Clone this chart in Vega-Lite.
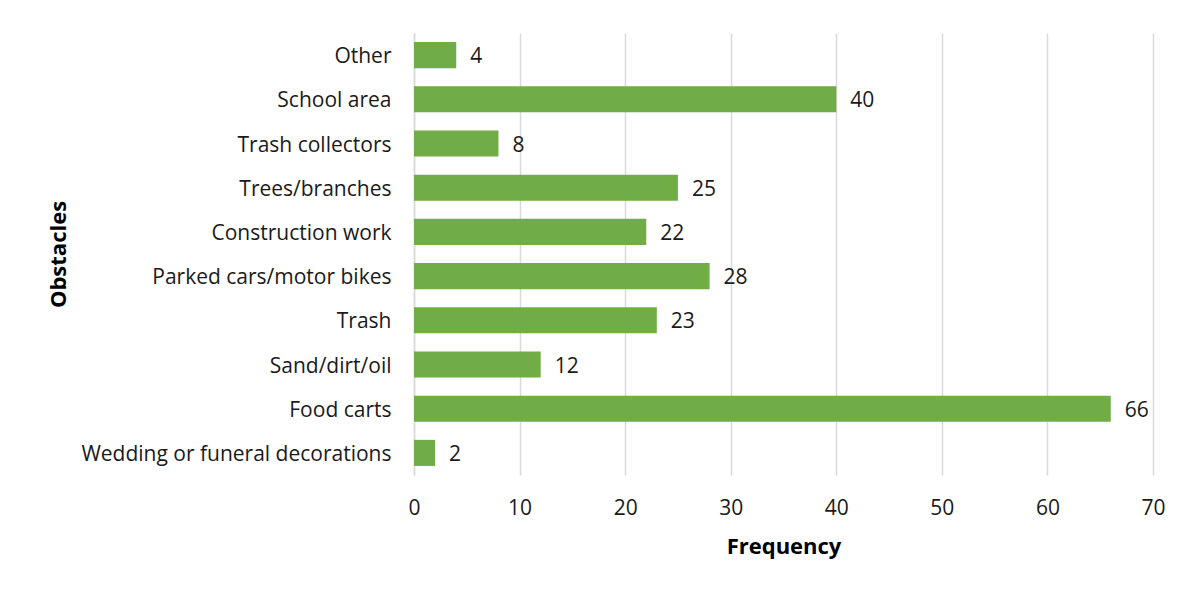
{
  "$schema": "https://vega.github.io/schema/vega-lite/v6.json",
  "width": 739,
  "height": 442,
  "autosize": "none",
  "padding": {"left": 414, "top": 33, "right": 34, "bottom": 115},
  "background": "white",
  "data": {
    "values": [
      {"obstacle": "Other", "frequency": 4},
      {"obstacle": "School area", "frequency": 40},
      {"obstacle": "Trash collectors", "frequency": 8},
      {"obstacle": "Trees/branches", "frequency": 25},
      {"obstacle": "Construction work", "frequency": 22},
      {"obstacle": "Parked cars/motor bikes", "frequency": 28},
      {"obstacle": "Trash", "frequency": 23},
      {"obstacle": "Sand/dirt/oil", "frequency": 12},
      {"obstacle": "Food carts", "frequency": 66},
      {"obstacle": "Wedding or funeral decorations", "frequency": 2}
    ]
  },
  "encoding": {
    "y": {
      "field": "obstacle",
      "type": "nominal",
      "sort": null,
      "scale": {"paddingInner": 0.41, "paddingOuter": 0.205},
      "axis": {
        "title": "Obstacles",
        "titleFont": "Open Sans",
        "titleFontSize": 22,
        "titleFontWeight": "bold",
        "titleColor": "#000000",
        "titleX": -356,
        "titleY": 221,
        "titleAlign": "center",
        "titleBaseline": "middle",
        "labelFont": "Open Sans",
        "labelFontSize": 21,
        "labelColor": "#1a1a1a",
        "labelPadding": 23,
        "labelOffset": 2,
        "labelLimit": 500,
        "ticks": false,
        "domain": true,
        "domainColor": "#D9D9D9",
        "domainWidth": 1.5,
        "grid": false
      }
    },
    "x": {
      "field": "frequency",
      "type": "quantitative",
      "scale": {"domain": [0, 70], "nice": false},
      "axis": {
        "title": "Frequency",
        "titleFont": "Open Sans",
        "titleFontSize": 22,
        "titleFontWeight": "bold",
        "titleColor": "#000000",
        "titleY": 71,
        "titleBaseline": "middle",
        "values": [0, 10, 20, 30, 40, 50, 60, 70],
        "labelFont": "Open Sans",
        "labelFontSize": 21,
        "labelColor": "#1a1a1a",
        "labelPadding": 22,
        "labelFlush": false,
        "ticks": false,
        "domain": false,
        "grid": true,
        "gridColor": "#D9D9D9",
        "gridWidth": 1.5
      }
    }
  },
  "layer": [
    {"mark": {"type": "bar", "color": "#70AD47"}},
    {
      "mark": {"type": "text", "align": "left", "dx": 14, "dy": 2, "font": "Open Sans", "fontSize": 21, "color": "#1a1a1a"},
      "encoding": {"text": {"field": "frequency", "type": "quantitative"}}
    }
  ],
  "config": {"view": {"stroke": null}}
}
